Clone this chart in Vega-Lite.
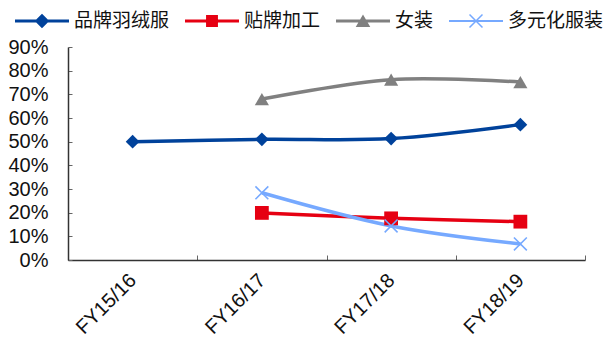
{
  "$schema": "https://vega.github.io/schema/vega-lite/v6.json",
  "width": 517,
  "height": 213,
  "autosize": {"type": "none"},
  "padding": {"left": 68, "top": 47, "right": 19, "bottom": 85},
  "background": "white",
  "config": {
    "view": {"stroke": null},
    "font": "Liberation Sans"
  },
  "data": {
    "values": [
      {"year": "FY15/16", "series": "品牌羽绒服", "value": 0.50},
      {"year": "FY16/17", "series": "品牌羽绒服", "value": 0.51},
      {"year": "FY17/18", "series": "品牌羽绒服", "value": 0.513},
      {"year": "FY18/19", "series": "品牌羽绒服", "value": 0.572},
      {"year": "FY16/17", "series": "贴牌加工", "value": 0.199},
      {"year": "FY17/18", "series": "贴牌加工", "value": 0.176},
      {"year": "FY18/19", "series": "贴牌加工", "value": 0.162},
      {"year": "FY16/17", "series": "女装", "value": 0.68},
      {"year": "FY17/18", "series": "女装", "value": 0.762},
      {"year": "FY18/19", "series": "女装", "value": 0.752},
      {"year": "FY16/17", "series": "多元化服装", "value": 0.284},
      {"year": "FY17/18", "series": "多元化服装", "value": 0.144},
      {"year": "FY18/19", "series": "多元化服装", "value": 0.068}
    ]
  },
  "encoding": {
    "x": {
      "field": "year",
      "type": "nominal",
      "sort": ["FY15/16", "FY16/17", "FY17/18", "FY18/19"],
      "scale": {"type": "band", "paddingInner": 0, "paddingOuter": 0},
      "axis": {
        "title": null,
        "labelAngle": -45,
        "labelAlign": "right",
        "labelBaseline": "middle",
        "labelFontSize": 20,
        "labelColor": "#111111",
        "labelPadding": 22,
        "tickBand": "extent",
        "tickSize": -5,
        "tickColor": "#666666",
        "domainColor": "#333333",
        "domainWidth": 1.5,
        "grid": false
      }
    },
    "y": {
      "field": "value",
      "type": "quantitative",
      "scale": {"domain": [0, 0.9], "nice": false},
      "axis": {
        "title": null,
        "format": ".0%",
        "values": [0, 0.1, 0.2, 0.3, 0.4, 0.5, 0.6, 0.7, 0.8, 0.9],
        "labelFontSize": 20,
        "labelColor": "#111111",
        "labelPadding": 24,
        "tickSize": -4,
        "tickColor": "#666666",
        "domainColor": "#333333",
        "domainWidth": 1.5,
        "grid": false
      }
    },
    "color": {
      "field": "series",
      "type": "nominal",
      "scale": {
        "domain": ["品牌羽绒服", "贴牌加工", "女装", "多元化服装"],
        "range": ["#00429B", "#E60012", "#808080", "#76A9FF"]
      },
      "legend": {
        "title": null,
        "orient": "none",
        "direction": "horizontal",
        "legendX": -53,
        "legendY": -53,
        "padding": 0,
        "columnPadding": 15,
        "labelFont": "Noto Sans CJK SC",
        "labelFontSize": 19,
        "labelColor": "#111111",
        "labelOffset": 5,
        "symbolSize": 2916,
        "encode": {
          "symbols": {
            "update": {
              "shape": {"signal": "datum.value === '品牌羽绒服' ? 'M-1,-0.056H1V0.056H-1Z M0,-0.27L0.27,0L0,0.27L-0.27,0Z' : datum.value === '贴牌加工' ? 'M-1,-0.056H1V0.056H-1Z M-0.22,-0.22H0.22V0.22H-0.22Z' : datum.value === '女装' ? 'M-1,-0.056H1V0.056H-1Z M0,-0.24L0.27,0.22H-0.27Z' : 'M-1,-0.04H1V0.04H-1Z M-0.22,-0.26L0.26,0.22L0.22,0.26L-0.26,-0.22Z M-0.26,0.22L0.22,-0.26L0.26,-0.22L-0.22,0.26Z'"},
              "fill": {"signal": "datum.value === '品牌羽绒服' ? '#00429B' : datum.value === '贴牌加工' ? '#E60012' : datum.value === '女装' ? '#808080' : '#76A9FF'"},
              "stroke": {"value": "transparent"},
              "strokeWidth": {"value": 0},
              "opacity": {"value": 1}
            }
          }
        }
      }
    }
  },
  "layer": [
    {
      "mark": {"type": "line", "interpolate": "catmull-rom", "strokeWidth": 3.5}
    },
    {
      "transform": [{"filter": "datum.series === '品牌羽绒服'"}],
      "mark": {"type": "point", "shape": "diamond", "filled": true, "opacity": 1, "size": 190}
    },
    {
      "transform": [{"filter": "datum.series === '贴牌加工'"}],
      "mark": {"type": "point", "shape": "square", "filled": true, "opacity": 1, "size": 190}
    },
    {
      "transform": [{"filter": "datum.series === '女装'"}],
      "mark": {"type": "point", "shape": "triangle-up", "filled": true, "opacity": 1, "size": 200}
    },
    {
      "transform": [{"filter": "datum.series === '多元化服装'"}],
      "mark": {"type": "point", "shape": "M-0.84,-1L1,0.84L0.84,1L-1,-0.84Z M-1,0.84L0.84,-1L1,-0.84L-0.84,1Z", "filled": true, "opacity": 1, "size": 196}
    }
  ]
}
